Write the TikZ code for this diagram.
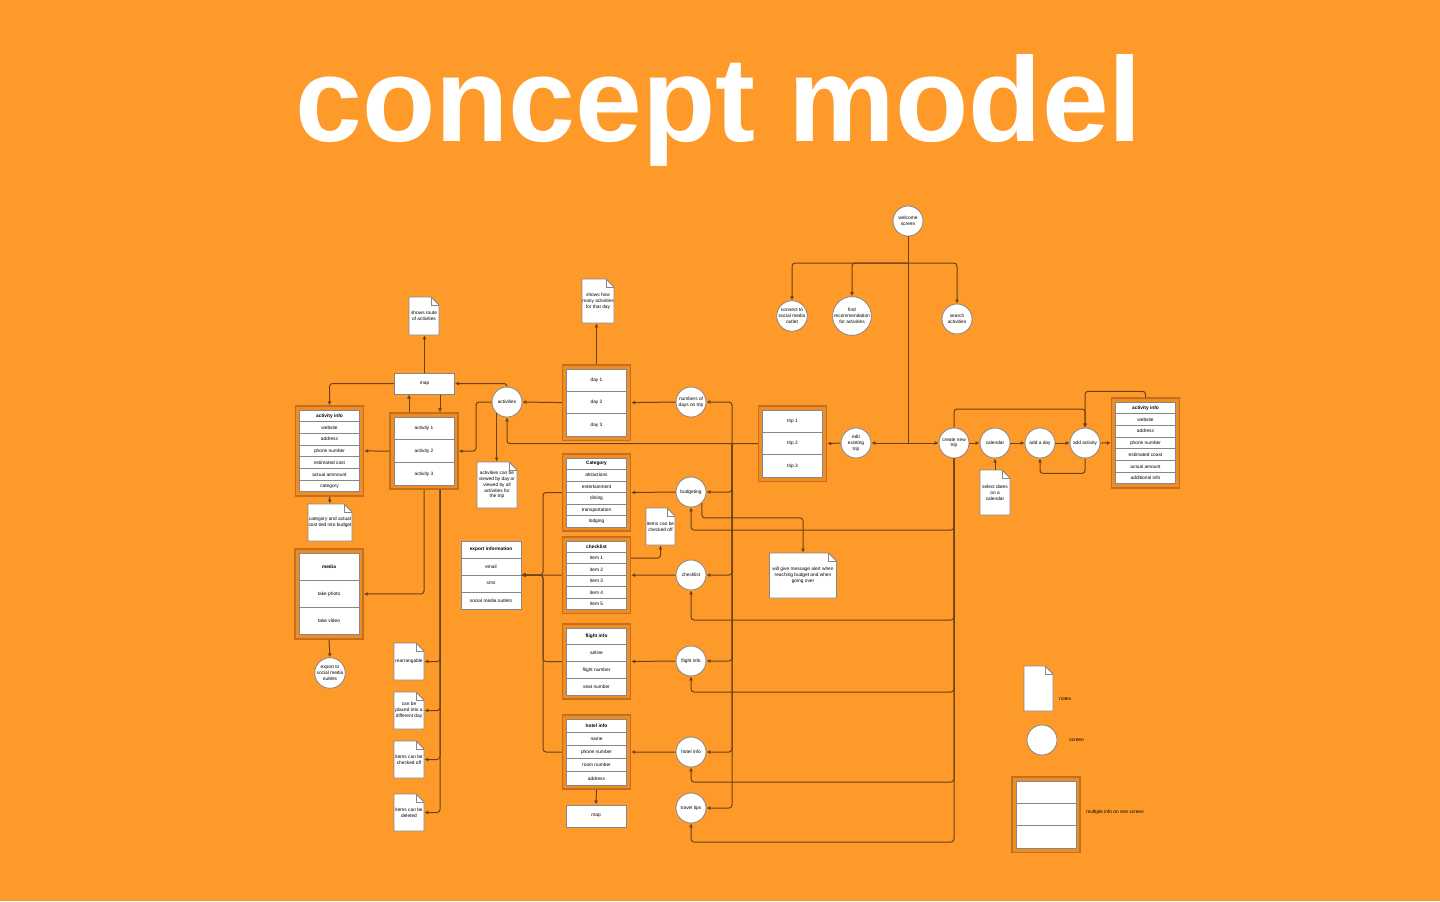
\documentclass[tikz,border=0pt]{standalone}
\usepackage{fontspec}
\setmainfont{Liberation Sans}
\usetikzlibrary{arrows.meta,calc}
\definecolor{bg}{RGB}{254,154,42}
\definecolor{frameF}{RGB}{238,140,38}
\definecolor{frameD}{RGB}{196,110,32}
\definecolor{linec}{RGB}{105,66,22}
\definecolor{edgec}{RGB}{135,135,135}
\tikzset{
 every node/.style={font=\fontsize{2.4pt}{2.9pt}\selectfont, inner sep=0pt},
 frame/.style={draw=frameD, fill=frameF, line width=0.7pt},
 row/.style={draw=edgec, fill=white, line width=0.5pt, minimum width=30pt},
 screen/.style={circle, draw=edgec, fill=white, line width=0.4pt, minimum size=15pt, align=center},
 notetext/.style={align=center},
 link/.style={draw=linec, line width=0.5pt, rounded corners=1.5pt},
 arr/.style={link, -{Latex[length=2pt,width=2pt]}},
}
% name, cx, cy, w, h, text
\newcommand{\notebox}[6]{%
 \filldraw[fill=white, draw=edgec, line width=0.4pt]
   ({#2-#4/2},{#3-#5/2}) -- ({#2+#4/2-8},{#3-#5/2}) -- ({#2+#4/2},{#3-#5/2+8}) -- ({#2+#4/2},{#3+#5/2}) -- ({#2-#4/2},{#3+#5/2}) -- cycle;
 \draw[edgec, line width=0.3pt] ({#2+#4/2-8},{#3-#5/2}) -- ({#2+#4/2-8},{#3-#5/2+8}) -- ({#2+#4/2},{#3-#5/2+8});
 \node[notetext, minimum width={#4*0.5pt}, minimum height={#5*0.5pt}] (#1) at (#2,#3) {#6};
}
% name, cx, inner top, row h, n rows, list
\newcommand{\stackbox}[6]{%
 \node[frame, minimum width=34pt, minimum height={(#5*#4+8)*0.5pt}] (#1) at (#2,{#3+#5*#4/2}) {};
 \foreach \rowtxt [count=\i] in {#6} {\node[row, minimum height={#4*0.5pt}] (#1-\i) at (#2,{#3+#4*\i-#4/2}) {\rowtxt};}
}
\newcommand{\plainstack}[6]{%
 \node[minimum width=30pt, minimum height={(#5*#4)*0.5pt}] (#1) at (#2,{#3+#5*#4/2}) {};
 \foreach \rowtxt [count=\i] in {#6} {\node[row, minimum height={#4*0.5pt}] (#1-\i) at (#2,{#3+#4*\i-#4/2}) {\rowtxt};}
}
\begin{document}
\begin{tikzpicture}[x=0.5pt,y=-0.5pt]
\useasboundingbox (0,0) rectangle (1440,901);
\fill[bg] (0,0) rectangle (1440,901);

\node[font=\fontsize{60pt}{60pt}\selectfont\bfseries, text=white, anchor=base] (title) at (719,141) {concept model};

% ---------- screens ----------
\node[screen] (welcome) at (908,221) {welcome\\screen};
\node[screen] (social) at (792,316) {connect to\\social media\\outlet};
\node[screen] (recommend) at (852,316) {find\\recommendation\\for activities};
\node[screen] (search) at (957,319) {search\\activities};
\node[screen] (edit) at (856,443) {edit\\existing\\trip};
\node[screen] (create) at (954,443) {create new\\trip};
\node[screen] (calendar) at (995,443) {calendar};
\node[screen] (addday) at (1040,443) {add a day};
\node[screen] (addact) at (1085,443) {add activity};
\node[screen] (numdays) at (691,402) {numbers of\\days on trip};
\node[screen] (activities) at (507,402) {activities};
\node[screen] (budgeting) at (691,492) {budgeting};
\node[screen] (checkc) at (691,575) {checklist};
\node[screen] (flightc) at (691,661) {flight info};
\node[screen] (hotelc) at (691,752) {hotel info};
\node[screen] (tips) at (691,808) {travel tips};
\node[screen] (exportsm) at (330,673) {export to\\social media\\outlets};

% ---------- multi-info screens ----------
\stackbox{trips}{792.5}{410}{22.4}{3}{trip 1, trip 2, trip 3}
\stackbox{days}{596.5}{369}{22.4}{3}{day 1, day 2, day 3}
\stackbox{actbox}{424}{417}{22.7}{3}{activity 1, activity 2, activity 3}
\stackbox{actinfo}{329.5}{410}{11.7}{7}{\textbf{activity info}, website, address, phone number, estimated cost, actual ammount, category}
\stackbox{media}{329}{553}{27.3}{3}{\textbf{media}, take photo, take video}
\stackbox{category}{596.5}{458}{11.5}{6}{\textbf{Category}, attractions, entertainment, dining, transportation, lodging}
\stackbox{checklist}{596.5}{541}{11.4}{6}{\textbf{checklist}, item 1, item 2, item 3, item 4, item 5}
\stackbox{flight}{596.5}{628}{16.75}{4}{\textbf{flight info}, airline, flight number, seat number}
\stackbox{hotel}{596.5}{719}{13.2}{5}{\textbf{hotel info}, name, phone number, room number, address}
\stackbox{actinfoR}{1145.5}{402}{11.7}{7}{\textbf{activity info}, website, address, phone number, estimated coast, actual amount, additional info}
\plainstack{export}{491}{541}{17}{4}{\textbf{export information}, email, sms, social media outlets}
\node[row, minimum height=10.5pt] (map) at (424.5,383.5) {map};
\node[row, minimum height=11pt] (map2) at (596,816) {map};

% ---------- notes ----------
\notebox{routenote}{424}{316}{30}{38}{shows route\\of activities}
\notebox{daysnote}{598}{301}{32}{44}{shows how\\many activities\\for that day}
\notebox{actnote}{497}{485}{40}{46}{activities can be\\viewed by day or\\viewed by all\\activities for\\the trip}
\notebox{catnote}{330}{522.5}{44}{37}{category and actual\\cost tied into budget}
\notebox{chknote}{660.5}{526.5}{29}{37}{items can be\\checked off}
\notebox{alertnote}{803}{575.5}{67}{45}{will give message alert when\\reaching budget and when\\going over}
\notebox{calnote}{995}{492.5}{30}{45}{select dates\\on a\\calendar}
\notebox{n1}{409}{661.5}{30}{37}{rearrangable}
\notebox{n2}{409}{710.5}{30}{37}{can be\\placed into a\\different day}
\notebox{n3}{409}{759.5}{30}{37}{items can be\\checked off}
\notebox{n4}{409}{812.5}{30}{37}{items can be\\deleted}

% ---------- legend ----------
\notebox{legnote}{1038.5}{688.5}{29}{45}{}
\node[anchor=west] (legnotet) at (1059,699) {notes};
\node[screen] (legscreen) at (1042,740) {};
\node[anchor=west] (legscreent) at (1069,740) {screen};
\stackbox{legbox}{1046}{781}{22.4}{3}{{},{},{}}
\node[anchor=west] (legboxt) at (1086,812) {multiple info on one screen};

% ---------- connectors ----------
\coordinate (wj) at (908,263);
\coordinate (wk) at (908,443);
\draw[link] (welcome.south) -- (wk);
\draw[arr] (wj) -| (social.north);
\draw[arr] (wj) -| (recommend.north);
\draw[arr] (wj) -| (search.north);
\draw[arr] (wk) -- (edit.east);
\draw[arr] (wk) -- (create.west);

\draw[arr] (edit.west) -- (trips.east);
\draw[arr] (trips.west) -| (activities.south);
\coordinate (tb) at (732,443);
\draw[arr] (tb) |- (numdays.east);
\draw[arr] (tb) |- (budgeting.east);
\draw[arr] (tb) |- (checkc.east);
\draw[arr] (tb) |- (flightc.east);
\draw[arr] (tb) |- (hotelc.east);
\draw[arr] (tb) |- (tips.east);

\draw[arr] (numdays.west) -- (days.east);
\draw[arr] (days.north) -- (days.north |- daysnote.south);
\draw[arr] (days.west) -- (activities.east);
\draw[arr] (activities.north) |- (map.east);
\draw[arr] (activities.west) -- (476,402) |- (actbox.east);
\draw[arr] (activities.228) -- (activities.228 |- actnote.north);
\draw[arr] (map.north) -- (map.north |- routenote.south);
\draw[arr] (map.west) -| (actinfo.north);
\draw[arr] ([xshift=-7.5pt]actbox.north) -- ([xshift=-7.5pt]actbox.north |- map.south);
\draw[arr] ([xshift=8pt]actbox.north |- map.south) -- ([xshift=8pt]actbox.north);
\draw[arr] (actbox.west) -- (actinfo.east);
\draw[arr] (actbox.south) |- (media.east);
\draw[arr] ([xshift=8pt]actbox.south) |- (n1.east);
\draw[arr] ([xshift=8pt]actbox.south) |- (n2.east);
\draw[arr] ([xshift=8pt]actbox.south) |- (n3.east);
\draw[arr] ([xshift=8pt]actbox.south) |- (n4.east);
\draw[arr] (actinfo.south) -- (catnote.north);
\draw[arr] (media.south) -- (exportsm.north);

\draw[arr] (budgeting.west) -- (category.east);
\draw[arr] (checkc.west) -- (checklist.east);
\draw[arr] (flightc.west) -- (flight.east);
\draw[arr] (hotelc.west) -- (hotel.east);
\draw[arr] (hotel.south) -- (map2.north);

\coordinate (eb) at (543,575);
\draw[arr] (category.west) -| (eb) -- (export.east);
\draw[arr] (checklist.west) -- (export.east);
\draw[arr] (flight.west) -| (eb) -- (export.east);
\draw[arr] (hotel.west) -| (eb) -- (export.east);

\draw[arr] (checklist.east |- checklist-2.center) -| (chknote.south);
\draw[arr] (budgeting.-45) -- ++(0,15) -| (alertnote.north);

\draw[arr] (create.south) -- (954,530) -| (budgeting.south);
\draw[arr] (create.south) -- (954,620) -| (checkc.south);
\draw[arr] (create.south) -- (954,692) -| (flightc.south);
\draw[arr] (create.south) -- (954,782) -| (hotelc.south);
\draw[arr] (create.south) -- (954,842) -| (tips.south);

\draw[arr] (create.north) -- (954,409) -| (addact.north);
\draw[arr] (actinfoR.north) -- ++(0,-6) -| (addact.north);
\draw[arr] (create.east) -- (calendar.west);
\draw[arr] (calendar.east) -- (addday.west);
\draw[arr] (addday.east) -- (addact.west);
\draw[arr] (addact.east) -- (actinfoR.west);
\draw[arr] (addact.south) -- ++(0,15) -| (addday.south);
\draw[arr] (calnote.north) -- (calendar.south);
\end{tikzpicture}
\end{document}
